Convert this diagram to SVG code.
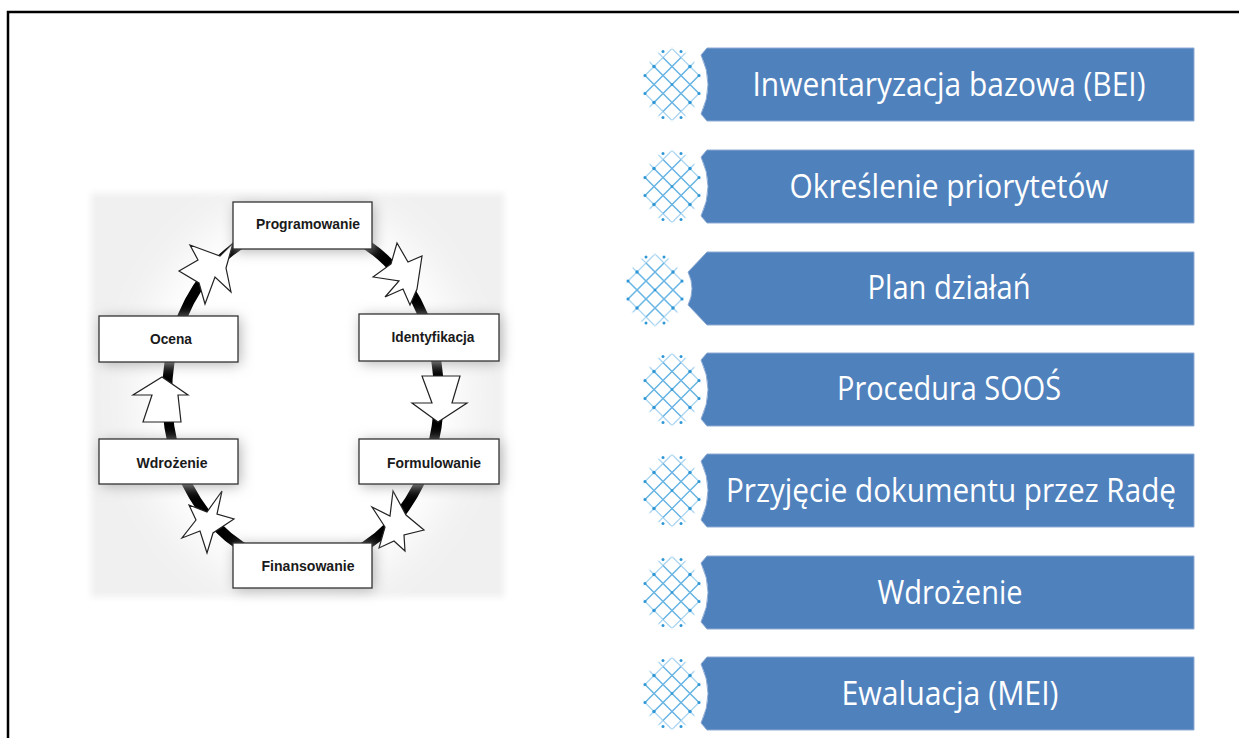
<svg xmlns="http://www.w3.org/2000/svg" xmlns:xlink="http://www.w3.org/1999/xlink" width="1239" height="738" viewBox="0 0 1239 738">
<style>
.banner{fill:#4f81bd;stroke:#8eabd4;stroke-width:1}
.btxt{font-family:"Open Sans","Liberation Sans",sans-serif;font-size:33px;fill:#ffffff;text-anchor:middle}
.box{fill:#ffffff;stroke:#333333;stroke-width:1.3}
.shadow{fill:#b0b0b0}
.ctxt{font-family:"Liberation Sans",Arial,sans-serif;font-size:14px;font-weight:bold;fill:#1a1a1a;text-anchor:middle}
.arrow{fill:#ffffff;stroke:#222222;stroke-width:1.2;stroke-linejoin:miter}
.mline{stroke:#aad5f0;stroke-width:1.3;fill:none}
.mline2{stroke:#6ab6e4;stroke-width:1.2;fill:none}
.mdot{fill:#2f97d6}
</style>
<defs>
<filter id="glow" x="-40%" y="-80%" width="180%" height="260%"><feGaussianBlur stdDeviation="7"/></filter>
<filter id="soft" x="-40%" y="-40%" width="180%" height="180%"><feGaussianBlur stdDeviation="22"/></filter>
<filter id="edge" x="-5%" y="-5%" width="110%" height="110%"><feGaussianBlur stdDeviation="3"/></filter>
<clipPath id="mc"><ellipse cx="0" cy="0" rx="30" ry="37"/></clipPath>
<g id="mesh">
<g clip-path="url(#mc)">
<path class="mline" d="M-60,-60 L60,60 M-60,-42 L60,78 M-60,-24 L60,96 M-60,-6 L60,114 M-60,-78 L60,42 M-60,-96 L60,24 M-60,-114 L60,6 M-60,12 L60,132 M-60,-132 L60,-12"/>
<path class="mline" d="M-60,60 L60,-60 M-60,42 L60,-78 M-60,24 L60,-96 M-60,6 L60,-114 M-60,78 L60,-42 M-60,96 L60,-24 M-60,114 L60,-6 M-60,-12 L60,-132 M-60,132 L60,12"/>
<path class="mline2" d="M-18,-18 L18,18 M-18,18 L18,-18 M-27,-9 L9,27 M-9,-27 L27,9 M-27,9 L9,-27 M-9,27 L27,-9"/>
</g>
<ellipse cx="0" cy="0" rx="30" ry="37" fill="none" stroke="#ffffff" stroke-width="3" opacity="0.7"/>
<circle class="mdot" cx="-18" cy="-18" r="1.7"/>
<circle class="mdot" cx="18" cy="-18" r="1.7"/>
<circle class="mdot" cx="-18" cy="18" r="1.7"/>
<circle class="mdot" cx="18" cy="18" r="1.7"/>
<circle class="mdot" cx="-9" cy="-33" r="1.5"/>
<circle class="mdot" cx="9" cy="-33" r="1.5"/>
<circle class="mdot" cx="-9" cy="33" r="1.5"/>
<circle class="mdot" cx="9" cy="33" r="1.5"/>
<circle class="mdot" cx="-27" cy="-9" r="1.5"/>
<circle class="mdot" cx="27" cy="9" r="1.5"/>
<circle class="mdot" cx="-27" cy="9" r="1.5"/>
<circle class="mdot" cx="27" cy="-9" r="1.5"/>
<circle class="mdot" cx="0" cy="0" r="1.3"/>
</g>
<path id="bshape" class="banner" d="M707,0 H1194 V73 H707 L701,66 Q715,36.5 701,7 Z"/>
</defs>

<rect x="0" y="0" width="1239" height="738" fill="#ffffff"/>
<path d="M8,739 V12 H1240" fill="none" stroke="#000000" stroke-width="2.5"/>

<!-- cycle diagram background -->
<g id="cycle-bg">
<rect x="91" y="193" width="413" height="404" fill="#f0f0f0" filter="url(#edge)"/>
<ellipse cx="302" cy="395" rx="165" ry="195" fill="#ffffff" filter="url(#soft)"/>
</g>

<g id="connectors">
<ellipse cx="303" cy="395" rx="136" ry="170" fill="none" stroke="#000000" stroke-width="10"/>
<polygon class="arrow" points="162,377 188,395 178,395 181,422 143,422 152,395 133,395"/>
<polygon class="arrow" points="422,376 460,376 452,403 467,403 438,422 412,403 432,403"/>
<polygon class="arrow" points="190,245 220,256 233,243 226,268 231,292 215,277 205,304 199,283 179,271 198,260"/>
<polygon class="arrow" points="373,277 391,264 397,243 408,262 422,256 417,289 410,305 403,289 385,297 399,281"/>
<polygon class="arrow" points="372,507 390,516 393,491 406,515 424,530 404,535 405,551 394,541 379,548 385,527"/>
<polygon class="arrow" points="189,505 207,512 222,491 217,514 234,519 213,533 207,553 200,531 182,538 196,520"/>
</g>

<g id="n-programowanie">
<rect class="shadow" x="235" y="204" width="139" height="47" filter="url(#glow)"/>
<rect class="box" x="233" y="202" width="139" height="47"/>
<text class="ctxt" x="308" y="229" textLength="104" lengthAdjust="spacingAndGlyphs">Programowanie</text>
</g>
<g id="n-ocena">
<rect class="shadow" x="101" y="318" width="139" height="46" filter="url(#glow)"/>
<rect class="box" x="99" y="316" width="139" height="46"/>
<text class="ctxt" x="171" y="344" textLength="42" lengthAdjust="spacingAndGlyphs">Ocena</text>
</g>
<g id="n-identyfikacja">
<rect class="shadow" x="361" y="316" width="140" height="47" filter="url(#glow)"/>
<rect class="box" x="359" y="314" width="140" height="47"/>
<text class="ctxt" x="433" y="342" textLength="83" lengthAdjust="spacingAndGlyphs">Identyfikacja</text>
</g>
<g id="n-wdrozenie">
<rect class="shadow" x="101" y="441" width="139" height="45" filter="url(#glow)"/>
<rect class="box" x="99" y="439" width="139" height="45"/>
<text class="ctxt" x="172" y="468" textLength="71" lengthAdjust="spacingAndGlyphs">Wdrożenie</text>
</g>
<g id="n-formulowanie">
<rect class="shadow" x="361" y="441" width="140" height="45" filter="url(#glow)"/>
<rect class="box" x="359" y="439" width="140" height="45"/>
<text class="ctxt" x="434" y="468" textLength="94" lengthAdjust="spacingAndGlyphs">Formulowanie</text>
</g>
<g id="n-finansowanie">
<rect class="shadow" x="235" y="545" width="139" height="45" filter="url(#glow)"/>
<rect class="box" x="233" y="543" width="139" height="45"/>
<text class="ctxt" x="308" y="571" textLength="93" lengthAdjust="spacingAndGlyphs">Finansowanie</text>
</g>

<!-- right list -->
<g id="step1">
<use xlink:href="#mesh" href="#mesh" x="672" y="84.5"/>
<use xlink:href="#bshape" href="#bshape" y="48"/>
<text class="btxt" x="949" y="96" textLength="393" lengthAdjust="spacingAndGlyphs">Inwentaryzacja bazowa (BEI)</text>
</g>
<g id="step2">
<use xlink:href="#mesh" href="#mesh" x="672" y="186.5"/>
<use xlink:href="#bshape" href="#bshape" y="150"/>
<text class="btxt" x="949" y="198" textLength="319" lengthAdjust="spacingAndGlyphs">Określenie priorytetów</text>
</g>
<g id="step3">
<use xlink:href="#mesh" href="#mesh" x="655" y="290"/>
<path class="banner" d="M707,252 H1194 V325 H707 L688,305 Q696,288.5 688,272 Z"/>
<text class="btxt" x="949" y="299" textLength="163" lengthAdjust="spacingAndGlyphs">Plan działań</text>
</g>
<g id="step4">
<use xlink:href="#mesh" href="#mesh" x="672" y="389.5"/>
<use xlink:href="#bshape" href="#bshape" y="353"/>
<text class="btxt" x="949" y="400" textLength="224" lengthAdjust="spacingAndGlyphs">Procedura SOOŚ</text>
</g>
<g id="step5">
<use xlink:href="#mesh" href="#mesh" x="672" y="490.5"/>
<use xlink:href="#bshape" href="#bshape" y="454"/>
<text class="btxt" x="951" y="502" textLength="450" lengthAdjust="spacingAndGlyphs">Przyjęcie dokumentu przez Radę</text>
</g>
<g id="step6">
<use xlink:href="#mesh" href="#mesh" x="672" y="592.5"/>
<use xlink:href="#bshape" href="#bshape" y="556"/>
<text class="btxt" x="950" y="604" textLength="145" lengthAdjust="spacingAndGlyphs">Wdrożenie</text>
</g>
<g id="step7">
<use xlink:href="#mesh" href="#mesh" x="672" y="693.5"/>
<use xlink:href="#bshape" href="#bshape" y="657"/>
<text class="btxt" x="950" y="705" textLength="217" lengthAdjust="spacingAndGlyphs">Ewaluacja (MEI)</text>
</g>
</svg>
